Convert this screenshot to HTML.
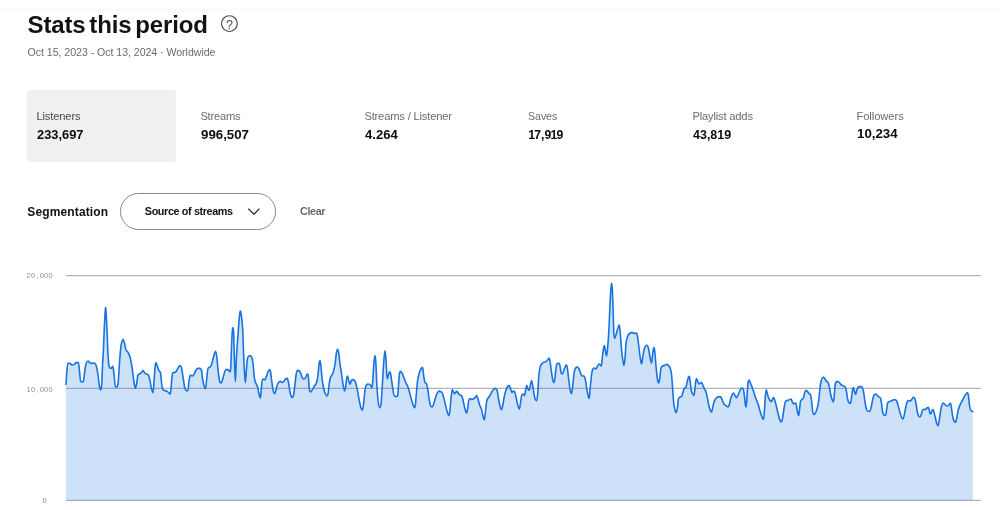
<!DOCTYPE html>
<html lang="en">
<head>
<meta charset="utf-8">
<title>Stats this period</title>
<style>
*{box-sizing:border-box;margin:0;padding:0}
html,body{width:1000px;height:510px;background:#fff;overflow:hidden}
body{font-family:"Liberation Sans",sans-serif;color:#121212;position:relative}
.abs{position:absolute;white-space:nowrap}
#topline{position:absolute;left:0;top:9px;width:1000px;height:1px;background:#f7f7f7}
#title{left:27.5px;top:10.8px;font-size:24px;font-weight:700;line-height:28px;color:#121212}
#help{left:219px;top:13px;width:21px;height:21px}
#sub{left:27.6px;top:45px;font-size:10.6px;line-height:14px;color:#6a6a6a}
.card{position:absolute;top:90px;height:72px;width:149px;border-radius:3px}
.card.sel{background:#f0f0f0}
.card .l{position:absolute;left:9.4px;top:19.3px;font-size:11.2px;line-height:14px;color:#6c6c6c;white-space:nowrap}
.card.sel .l{color:#4a4a4a}
.card .v{position:absolute;left:10px;top:37.4px;font-size:12.2px;line-height:16px;font-weight:700;color:#0c0c0c;white-space:nowrap}
.card .v{transform-origin:0 0}
#v5{top:36.1px;font-size:12.4px}
.n1{letter-spacing:-0.7px;margin-left:-0.8px}
#seg{left:27.3px;top:203.7px;font-size:12px;font-weight:700;line-height:16px}
#dd{position:absolute;left:120px;top:192.6px;width:156px;height:37.4px;border:1px solid #8a8a8a;border-radius:19px;background:#fff}
#ddt{position:absolute;left:23.8px;top:10.6px;font-size:10.8px;font-weight:700;line-height:14px;white-space:nowrap}
#dd svg{position:absolute;left:124.5px;top:12.1px}
#clear{left:300px;top:203.6px;font-size:10.8px;font-weight:700;line-height:14px;color:#6a6a6a}
#chart{position:absolute;left:0;top:250px}
#chart text{font-family:"Liberation Sans",sans-serif;font-size:7.4px;fill:#8e8e8e;text-anchor:middle}
</style>
</head>
<body>
<div id="topline"></div>
<div class="abs" id="title" style="letter-spacing:-0.121px;word-spacing:-2.8px">Stats this period</div>
<svg class="abs" id="help" viewBox="0 0 21 21"><circle cx="10.4" cy="10.6" r="7.9" fill="none" stroke="#4a4a4a" stroke-width="1.15"/><text x="10.4" y="15.5" text-anchor="middle" font-family="Liberation Sans, sans-serif" font-size="12.6" fill="#4a4a4a">?</text></svg>
<div class="abs" id="sub" style="letter-spacing:-0.042px">Oct 15, 2023 - Oct 13, 2024 · Worldwide</div>

<div class="card sel" style="left:27px"><div class="l" id="l0" style="letter-spacing:-0.150px">Listeners</div><div class="v" id="v0" style="letter-spacing:0.000px;transform:scaleX(1.0545)">233,697</div></div>
<div class="card" style="left:191px"><div class="l" id="l1" style="letter-spacing:-0.250px">Streams</div><div class="v" id="v1" style="letter-spacing:0.000px;transform:scaleX(1.0886)">996,507</div></div>
<div class="card" style="left:355px"><div class="l" id="l2" style="letter-spacing:-0.188px">Streams / Listener</div><div class="v" id="v2" style="letter-spacing:0.000px;transform:scaleX(1.0710)">4.264</div></div>
<div class="card" style="left:519px"><div class="l" id="l3" style="letter-spacing:-0.100px;transform:scaleX(0.955);transform-origin:0 0">Saves</div><div class="v" id="v3" style="letter-spacing:0.000px;transform:scaleX(1.0000)"><span class="n1">1</span>7,9<span class="n1">1</span>9</div></div>
<div class="card" style="left:683px"><div class="l" id="l4" style="letter-spacing:-0.183px">Playlist adds</div><div class="v" id="v4" style="letter-spacing:0.000px;transform:scaleX(1.0243)">43,819</div></div>
<div class="card" style="left:847px"><div class="l" id="l5" style="letter-spacing:-0.062px">Followers</div><div class="v" id="v5" style="letter-spacing:0.000px;transform:scaleX(1.0711)">10,234</div></div>

<div class="abs" id="seg" style="letter-spacing:0.136px">Segmentation</div>
<div id="dd"><span id="ddt" style="letter-spacing:-0.369px">Source of streams</span><svg width="16" height="12" viewBox="0 0 16 12"><path d="M2.3 2.6 L7.9 8.1 L13.5 2.6" fill="none" stroke="#222" stroke-width="1.25"/></svg></div>
<div class="abs" id="clear" style="letter-spacing:-0.375px">Clear</div>

<svg id="chart" width="1000" height="260" viewBox="0 250 1000 260">
<line x1="66" x2="981" y1="275.6" y2="275.6" stroke="#b4b4b4" stroke-width="1.3"/>
<line x1="66" x2="981" y1="388.4" y2="388.4" stroke="#b4b4b4" stroke-width="1.3"/>
<line x1="66" x2="981" y1="500.4" y2="500.4" stroke="#b4b4b4" stroke-width="1.3"/>
<path id="area" d="M66.00 384.40C66.27 379.84 66.53 375.28 66.80 372.00C67.20 367.08 67.60 363.00 68.00 363.00C68.67 363.00 69.33 363.31 70.00 363.60C70.80 363.94 71.60 365.00 72.40 365.00C73.07 365.00 73.73 364.80 74.40 364.40C74.93 364.08 75.47 362.60 76.00 362.60C76.80 362.60 77.60 362.60 78.40 362.60C78.73 362.60 79.07 367.27 79.40 370.00C79.80 373.28 80.20 380.43 80.60 381.00C81.07 381.67 81.53 382.00 82.00 382.00C82.47 382.00 82.93 381.87 83.40 381.60C83.73 381.41 84.07 376.36 84.40 374.00C84.93 370.22 85.47 365.60 86.00 364.00C86.67 362.00 87.33 361.00 88.00 361.00C88.67 361.00 89.33 362.73 90.00 363.00C90.67 363.27 91.33 363.40 92.00 363.40C92.67 363.40 93.33 363.00 94.00 363.00C94.67 363.00 95.33 363.67 96.00 365.00C96.67 366.33 97.33 370.74 98.00 375.00C98.53 378.41 99.07 384.48 99.60 387.00C99.93 388.58 100.27 390.00 100.60 390.00C100.93 390.00 101.27 388.67 101.60 386.00C101.93 383.33 102.27 370.50 102.60 364.00C102.87 358.80 103.13 355.67 103.40 350.00C103.67 344.33 103.93 335.90 104.20 330.00C104.40 325.57 104.60 321.56 104.80 318.00C104.97 315.03 105.13 311.97 105.30 310.00C105.40 308.82 105.50 307.20 105.60 307.20C105.70 307.20 105.80 308.82 105.90 310.00C106.07 311.97 106.23 315.03 106.40 318.00C106.60 321.56 106.80 325.57 107.00 330.00C107.27 335.90 107.53 344.58 107.80 350.00C108.20 358.13 108.60 364.63 109.00 366.00C109.47 367.60 109.93 368.40 110.40 368.40C110.80 368.40 111.20 368.27 111.60 368.00C112.00 367.73 112.40 366.40 112.80 366.40C113.20 366.40 113.60 370.92 114.00 374.00C114.47 377.59 114.93 387.00 115.40 387.00C115.87 387.00 116.33 387.00 116.80 387.00C117.20 387.00 117.60 386.00 118.00 384.00C118.47 381.67 118.93 370.01 119.40 364.00C119.93 357.14 120.47 349.20 121.00 346.00C121.73 341.60 122.47 339.40 123.20 339.40C123.60 339.40 124.00 341.56 124.40 343.00C124.93 344.91 125.47 348.72 126.00 350.00C126.67 351.60 127.33 351.23 128.00 352.40C128.67 353.57 129.33 354.57 130.00 357.00C130.67 359.43 131.33 362.83 132.00 367.00C132.67 371.17 133.33 378.15 134.00 382.00C134.47 384.70 134.93 388.40 135.40 388.40C135.80 388.40 136.20 385.98 136.60 384.00C137.07 381.69 137.53 375.65 138.00 375.00C138.67 374.07 139.33 374.09 140.00 373.60C140.53 373.21 141.07 372.95 141.60 372.40C142.07 371.92 142.53 370.60 143.00 370.60C143.47 370.60 143.93 371.86 144.40 372.40C144.93 373.01 145.47 373.79 146.00 374.00C146.67 374.27 147.33 374.13 148.00 374.40C148.53 374.61 149.07 376.96 149.60 379.00C150.27 381.55 150.93 386.62 151.60 389.00C152.07 390.67 152.53 392.60 153.00 392.60C153.33 392.60 153.67 385.95 154.00 382.00C154.40 377.26 154.80 369.15 155.20 366.00C155.47 363.90 155.73 362.60 156.00 362.60C156.40 362.60 156.80 364.91 157.20 366.00C157.80 367.63 158.40 369.50 159.00 370.60C159.47 371.46 159.93 371.20 160.40 372.40C160.80 373.43 161.20 380.13 161.60 383.00C162.00 385.87 162.40 389.10 162.80 389.60C163.33 390.27 163.87 390.35 164.40 390.60C165.27 391.00 166.13 390.80 167.00 391.20C167.67 391.51 168.33 392.47 169.00 393.00C169.47 393.37 169.93 394.00 170.40 394.00C170.73 394.00 171.07 387.21 171.40 384.00C171.80 380.15 172.20 373.27 172.60 373.00C173.20 372.60 173.80 372.65 174.40 372.40C174.93 372.18 175.47 372.13 176.00 371.60C176.67 370.93 177.33 369.00 178.00 368.00C178.67 367.00 179.33 365.60 180.00 365.60C180.47 365.60 180.93 366.27 181.40 367.60C181.93 369.12 182.47 373.88 183.00 377.00C183.67 380.89 184.33 387.00 185.00 388.60C185.67 390.20 186.33 391.00 187.00 391.00C187.33 391.00 187.67 390.67 188.00 390.00C188.33 389.33 188.67 383.35 189.00 381.00C189.47 377.72 189.93 375.00 190.40 375.00C190.93 375.00 191.47 376.00 192.00 376.00C192.53 376.00 193.07 375.66 193.60 375.00C194.27 374.18 194.93 372.10 195.60 371.00C196.27 369.90 196.93 368.40 197.60 368.40C198.27 368.40 198.93 368.40 199.60 368.40C200.20 368.40 200.80 368.93 201.40 370.00C201.80 370.71 202.20 376.49 202.60 379.00C203.20 382.77 203.80 385.45 204.40 387.00C204.80 388.03 205.20 388.60 205.60 388.60C205.93 388.60 206.27 382.82 206.60 380.00C207.07 376.05 207.53 369.05 208.00 368.40C208.67 367.47 209.33 367.75 210.00 367.00C210.47 366.47 210.93 366.17 211.40 365.00C211.93 363.66 212.47 361.03 213.00 359.00C213.47 357.22 213.93 354.89 214.40 353.60C214.80 352.49 215.20 351.40 215.60 351.40C216.00 351.40 216.40 354.22 216.80 357.00C217.33 360.71 217.87 368.77 218.40 373.00C218.93 377.23 219.47 381.87 220.00 382.40C220.40 382.80 220.80 383.00 221.20 383.00C221.80 383.00 222.40 379.87 223.00 378.00C223.67 375.92 224.33 372.33 225.00 371.00C225.53 369.93 226.07 369.40 226.60 369.40C227.20 369.40 227.80 369.60 228.40 370.00C228.93 370.36 229.47 372.00 230.00 372.00C230.20 372.00 230.40 371.33 230.60 370.00C230.87 368.22 231.13 356.07 231.40 350.00C231.73 342.41 232.07 332.67 232.40 330.00C232.60 328.40 232.80 327.60 233.00 327.60C233.20 327.60 233.40 329.07 233.60 332.00C233.87 335.91 234.13 352.25 234.40 360.00C234.73 369.68 235.07 381.60 235.40 381.60C235.70 381.60 236.00 365.93 236.30 360.00C236.60 354.07 236.90 350.44 237.20 346.00C237.59 340.28 237.97 335.27 238.36 330.00C238.61 326.64 238.85 322.85 239.10 320.00C239.33 317.30 239.57 314.75 239.80 313.20C240.00 311.87 240.20 310.80 240.40 310.80C240.63 310.80 240.87 312.61 241.10 314.00C241.40 315.79 241.70 317.81 242.00 321.00C242.23 323.48 242.47 325.59 242.70 330.00C243.00 335.67 243.30 346.95 243.60 354.00C243.93 361.84 244.27 369.05 244.60 374.00C244.87 377.96 245.13 382.60 245.40 382.60C245.73 382.60 246.07 373.81 246.40 370.00C246.80 365.43 247.20 359.14 247.60 358.00C248.07 356.67 248.53 356.37 249.00 356.00C249.33 355.73 249.67 355.60 250.00 355.60C250.53 355.60 251.07 356.07 251.60 357.00C252.07 357.82 252.53 359.50 253.00 363.00C253.47 366.50 253.93 374.73 254.40 378.00C254.93 381.73 255.47 382.10 256.00 383.60C256.53 385.10 257.07 385.05 257.60 387.00C258.07 388.71 258.53 392.17 259.00 394.00C259.47 395.83 259.93 398.00 260.40 398.00C260.67 398.00 260.93 392.52 261.20 390.00C261.60 386.21 262.00 380.00 262.40 379.60C262.80 379.20 263.20 379.00 263.60 379.00C264.07 379.00 264.53 380.00 265.00 380.00C265.47 380.00 265.93 377.64 266.40 376.40C266.93 374.98 267.47 373.13 268.00 372.00C268.53 370.87 269.07 369.60 269.60 369.60C269.93 369.60 270.27 370.40 270.60 372.00C270.93 373.60 271.27 377.49 271.60 380.00C272.07 383.51 272.53 387.35 273.00 389.60C273.53 392.17 274.07 393.60 274.60 393.60C275.07 393.60 275.53 391.53 276.00 390.00C276.47 388.47 276.93 385.72 277.40 384.40C277.93 382.89 278.47 382.46 279.00 382.00C279.47 381.60 279.93 381.40 280.40 381.40C280.93 381.40 281.47 382.40 282.00 382.40C282.53 382.40 283.07 382.06 283.60 381.60C284.27 381.03 284.93 379.50 285.60 379.00C286.13 378.60 286.67 378.40 287.20 378.40C287.60 378.40 288.00 380.07 288.40 382.00C288.80 383.93 289.20 387.83 289.60 390.00C290.07 392.54 290.53 394.40 291.00 395.60C291.47 396.80 291.93 397.40 292.40 397.40C292.80 397.40 293.20 396.60 293.60 395.00C294.07 393.13 294.53 387.67 295.00 384.00C295.47 380.33 295.93 375.02 296.40 373.00C296.80 371.27 297.20 370.40 297.60 370.40C298.20 370.40 298.80 370.60 299.40 371.00C299.93 371.36 300.47 372.72 301.00 374.00C301.47 375.12 301.93 377.42 302.40 378.00C302.93 378.67 303.47 379.00 304.00 379.00C304.53 379.00 305.07 378.47 305.60 377.60C306.07 376.84 306.53 374.77 307.00 374.40C307.33 374.13 307.67 374.00 308.00 374.00C308.20 374.00 308.40 377.92 308.60 380.00C308.93 383.46 309.27 390.33 309.60 391.00C309.93 391.67 310.27 392.00 310.60 392.00C311.20 392.00 311.80 390.53 312.40 389.60C313.07 388.56 313.73 387.10 314.40 386.00C315.07 384.90 315.73 385.00 316.40 383.00C316.93 381.40 317.47 379.19 318.00 375.00C318.40 371.86 318.80 365.32 319.20 363.00C319.47 361.45 319.73 360.60 320.00 360.60C320.27 360.60 320.53 362.96 320.80 365.00C321.20 368.05 321.60 374.45 322.00 378.00C322.53 382.73 323.07 385.40 323.60 388.00C324.20 390.93 324.80 392.66 325.40 394.00C325.93 395.19 326.47 396.00 327.00 396.00C327.33 396.00 327.67 395.33 328.00 394.00C328.40 392.40 328.80 386.73 329.20 384.00C329.60 381.27 330.00 378.90 330.40 377.60C330.93 375.87 331.47 376.10 332.00 375.00C332.53 373.90 333.07 373.00 333.60 371.00C334.13 369.00 334.67 366.68 335.20 363.00C335.60 360.24 336.00 355.30 336.40 353.00C336.80 350.70 337.20 349.20 337.60 349.20C337.93 349.20 338.27 350.27 338.60 352.00C339.07 354.43 339.53 360.51 340.00 364.00C340.53 367.99 341.07 370.41 341.60 374.00C342.07 377.14 342.53 381.27 343.00 384.00C343.53 387.12 344.07 391.00 344.60 391.00C344.93 391.00 345.27 389.00 345.60 387.00C345.93 385.00 346.27 380.83 346.60 379.00C346.93 377.17 347.27 376.00 347.60 376.00C347.93 376.00 348.27 378.79 348.60 380.00C349.07 381.70 349.53 384.40 350.00 384.40C350.33 384.40 350.67 382.34 351.00 381.60C351.47 380.56 351.93 379.60 352.40 379.60C352.93 379.60 353.47 379.73 354.00 380.00C354.53 380.27 355.07 380.89 355.60 382.40C356.07 383.72 356.53 385.85 357.00 388.00C357.67 391.08 358.33 395.67 359.00 399.00C359.67 402.33 360.33 406.09 361.00 408.00C361.47 409.34 361.93 410.40 362.40 410.40C362.80 410.40 363.20 406.99 363.60 404.00C364.07 400.51 364.53 393.17 365.00 390.00C365.47 386.83 365.93 385.58 366.40 385.00C366.93 384.33 367.47 384.00 368.00 384.00C368.53 384.00 369.07 384.13 369.60 384.40C370.07 384.63 370.53 385.23 371.00 386.00C371.33 386.55 371.67 388.00 372.00 388.00C372.27 388.00 372.53 383.20 372.80 380.00C373.20 375.20 373.60 366.12 374.00 362.00C374.33 358.56 374.67 355.60 375.00 355.60C375.27 355.60 375.53 358.21 375.80 362.00C376.13 366.74 376.47 377.98 376.80 384.00C377.20 391.22 377.60 396.20 378.00 400.00C378.53 405.07 379.07 407.60 379.60 407.60C380.07 407.60 380.53 406.40 381.00 404.00C381.47 401.60 381.93 391.26 382.40 384.00C382.80 377.77 383.20 369.36 383.60 364.00C384.07 357.75 384.53 350.60 385.00 350.60C385.33 350.60 385.67 355.89 386.00 360.00C386.40 364.93 386.80 379.00 387.20 379.00C387.60 379.00 388.00 376.17 388.40 375.00C388.87 373.64 389.33 371.60 389.80 371.60C390.13 371.60 390.47 373.42 390.80 375.00C391.33 377.53 391.87 382.67 392.40 386.00C392.93 389.33 393.47 393.93 394.00 395.00C394.53 396.07 395.07 396.60 395.60 396.60C396.27 396.60 396.93 396.40 397.60 396.00C397.93 395.80 398.27 387.83 398.60 384.00C398.93 380.17 399.27 374.07 399.60 373.00C399.93 371.93 400.27 371.40 400.60 371.40C401.07 371.40 401.53 372.21 402.00 373.00C402.67 374.13 403.33 376.33 404.00 378.00C404.67 379.67 405.33 381.50 406.00 383.00C406.67 384.50 407.33 385.17 408.00 387.00C408.67 388.83 409.33 391.57 410.00 394.00C410.67 396.43 411.33 399.43 412.00 401.60C412.67 403.77 413.33 406.20 414.00 407.00C414.33 407.40 414.67 407.60 415.00 407.60C415.33 407.60 415.67 401.45 416.00 398.00C416.47 393.16 416.93 385.93 417.40 382.00C417.93 377.50 418.47 376.07 419.00 374.00C419.67 371.41 420.33 370.11 421.00 369.00C421.53 368.11 422.07 367.40 422.60 367.40C422.93 367.40 423.27 372.79 423.60 375.00C424.07 378.10 424.53 381.47 425.00 382.40C425.53 383.47 426.07 382.93 426.60 384.00C427.07 384.93 427.53 388.26 428.00 391.00C428.53 394.13 429.07 399.39 429.60 402.00C430.07 404.28 430.53 406.00 431.00 406.40C431.47 406.80 431.93 407.00 432.40 407.00C432.93 407.00 433.47 404.57 434.00 403.00C434.67 401.04 435.33 397.83 436.00 396.00C436.67 394.17 437.33 392.82 438.00 392.00C438.53 391.34 439.07 391.00 439.60 391.00C439.73 391.00 439.87 391.53 440.00 391.60C440.53 391.87 441.07 391.73 441.60 392.00C442.07 392.23 442.53 393.64 443.00 395.00C443.67 396.94 444.33 400.33 445.00 403.00C445.67 405.67 446.33 408.90 447.00 411.00C447.67 413.10 448.33 415.60 449.00 415.60C449.33 415.60 449.67 412.93 450.00 410.00C450.33 407.07 450.67 401.17 451.00 398.00C451.47 393.57 451.93 389.60 452.40 389.60C452.80 389.60 453.20 391.71 453.60 392.40C453.93 392.97 454.27 393.60 454.60 393.60C455.07 393.60 455.53 392.37 456.00 392.00C456.40 391.68 456.80 391.40 457.20 391.40C457.60 391.40 458.00 393.03 458.40 393.60C458.93 394.36 459.47 394.67 460.00 395.00C460.53 395.33 461.07 395.20 461.60 395.60C462.07 395.95 462.53 398.27 463.00 400.00C463.67 402.47 464.33 406.74 465.00 409.00C465.53 410.81 466.07 413.00 466.60 413.00C466.93 413.00 467.27 411.00 467.60 409.00C467.93 407.00 468.27 402.14 468.60 401.00C469.07 399.40 469.53 398.60 470.00 398.60C470.53 398.60 471.07 399.40 471.60 399.40C472.13 399.40 472.67 399.27 473.20 399.00C473.80 398.70 474.40 398.22 475.00 397.60C475.53 397.05 476.07 395.60 476.60 395.60C477.07 395.60 477.53 397.58 478.00 399.00C478.53 400.62 479.07 403.38 479.60 405.00C480.20 406.82 480.80 406.98 481.40 409.00C481.93 410.79 482.47 414.10 483.00 416.00C483.47 417.66 483.93 420.00 484.40 420.00C484.80 420.00 485.20 413.11 485.60 410.00C486.07 406.37 486.53 401.40 487.00 400.00C487.67 398.00 488.33 398.07 489.00 397.00C489.67 395.93 490.33 394.77 491.00 393.60C491.67 392.43 492.33 390.87 493.00 390.00C493.67 389.13 494.33 388.40 495.00 388.40C495.67 388.40 496.33 388.93 497.00 390.00C497.47 390.75 497.93 395.49 498.40 398.00C498.93 400.87 499.47 404.07 500.00 406.00C500.53 407.93 501.07 409.60 501.60 409.60C502.07 409.60 502.53 406.22 503.00 404.00C503.53 401.46 504.07 397.42 504.60 395.00C505.20 392.27 505.80 390.54 506.40 389.00C506.93 387.63 507.47 386.30 508.00 386.00C508.47 385.73 508.93 385.60 509.40 385.60C509.80 385.60 510.20 387.94 510.60 389.00C511.07 390.24 511.53 392.40 512.00 392.40C512.47 392.40 512.93 391.00 513.40 391.00C513.80 391.00 514.20 391.20 514.60 391.60C515.07 392.07 515.53 395.08 516.00 397.00C516.67 399.75 517.33 403.87 518.00 406.00C518.47 407.49 518.93 409.20 519.40 409.20C519.80 409.20 520.20 404.29 520.60 402.00C521.07 399.32 521.53 394.40 522.00 394.40C522.47 394.40 522.93 394.40 523.40 394.40C523.80 394.40 524.20 395.60 524.60 395.60C524.93 395.60 525.27 391.57 525.60 390.00C526.00 388.11 526.40 385.60 526.80 385.60C527.20 385.60 527.60 388.20 528.00 389.00C528.40 389.80 528.80 390.40 529.20 390.40C529.60 390.40 530.00 386.63 530.40 385.00C530.80 383.37 531.20 380.60 531.60 380.60C531.93 380.60 532.27 383.25 532.60 385.00C533.07 387.45 533.53 391.57 534.00 394.00C534.47 396.43 534.93 398.93 535.40 399.60C535.87 400.27 536.33 400.60 536.80 400.60C537.13 400.60 537.47 396.10 537.80 392.00C538.13 387.90 538.47 379.97 538.80 376.00C539.20 371.24 539.60 369.40 540.00 367.60C540.53 365.20 541.07 364.85 541.60 364.00C542.27 362.93 542.93 362.79 543.60 362.40C544.40 361.93 545.20 362.13 546.00 361.60C546.53 361.24 547.07 360.66 547.60 360.00C548.07 359.43 548.53 358.00 549.00 358.00C549.33 358.00 549.67 359.32 550.00 361.00C550.40 363.02 550.80 367.20 551.20 370.00C551.67 373.27 552.13 376.90 552.60 379.00C553.07 381.10 553.53 382.60 554.00 382.60C554.33 382.60 554.67 380.43 555.00 378.00C555.33 375.57 555.67 370.37 556.00 368.00C556.40 365.15 556.80 363.76 557.20 363.60C557.87 363.33 558.53 363.20 559.20 363.20C559.47 363.20 559.73 364.82 560.00 366.00C560.40 367.77 560.80 372.33 561.20 373.00C561.60 373.67 562.00 374.00 562.40 374.00C562.93 374.00 563.47 371.33 564.00 370.00C564.53 368.67 565.07 366.84 565.60 366.00C565.93 365.47 566.27 365.00 566.60 365.00C566.93 365.00 567.27 367.84 567.60 370.00C568.07 373.03 568.53 378.50 569.00 382.00C569.47 385.50 569.93 389.13 570.40 391.00C570.80 392.60 571.20 393.40 571.60 393.40C571.93 393.40 572.27 389.53 572.60 387.00C573.07 383.45 573.53 377.13 574.00 374.00C574.53 370.43 575.07 368.67 575.60 368.00C576.13 367.33 576.67 367.00 577.20 367.00C577.80 367.00 578.40 367.89 579.00 369.00C579.53 369.98 580.07 371.77 580.60 373.00C581.07 374.08 581.53 376.00 582.00 376.00C582.67 376.00 583.33 376.00 584.00 376.00C584.47 376.00 584.93 377.93 585.40 380.00C585.93 382.37 586.47 387.02 587.00 390.00C587.47 392.61 587.93 395.63 588.40 397.00C588.67 397.78 588.93 398.40 589.20 398.40C589.47 398.40 589.73 392.69 590.00 390.00C590.67 383.29 591.33 375.33 592.00 372.00C592.33 370.33 592.67 369.48 593.00 369.00C593.47 368.33 593.93 368.00 594.40 368.00C594.93 368.00 595.47 369.00 596.00 369.00C596.47 369.00 596.93 367.19 597.40 366.40C597.93 365.50 598.47 364.00 599.00 364.00C599.47 364.00 599.93 364.59 600.40 365.00C600.73 365.29 601.07 366.00 601.40 366.00C601.73 366.00 602.07 359.77 602.40 357.00C602.80 353.67 603.20 349.92 603.60 348.00C603.87 346.72 604.13 345.60 604.40 345.60C604.73 345.60 605.07 349.39 605.40 351.00C605.80 352.94 606.20 356.00 606.60 356.00C606.93 356.00 607.27 351.56 607.60 348.00C608.13 342.30 608.67 334.95 609.20 324.00C609.53 317.15 609.87 306.38 610.20 300.00C610.43 295.54 610.67 291.67 610.90 289.00C611.03 287.47 611.17 286.47 611.30 285.40C611.40 284.60 611.50 283.20 611.60 283.20C611.70 283.20 611.80 284.60 611.90 285.40C612.03 286.47 612.17 287.03 612.30 289.00C612.57 292.93 612.83 302.50 613.10 310.00C613.37 317.50 613.63 330.65 613.90 334.00C614.13 336.93 614.37 338.40 614.60 338.40C615.07 338.40 615.53 336.42 616.00 335.00C616.53 333.38 617.07 330.67 617.60 329.00C618.13 327.33 618.67 325.00 619.20 325.00C619.47 325.00 619.73 327.69 620.00 330.00C620.47 334.04 620.93 343.00 621.40 348.00C621.87 353.00 622.33 356.98 622.80 360.00C623.20 362.59 623.60 365.60 624.00 365.60C624.33 365.60 624.67 361.60 625.00 358.00C625.33 354.40 625.67 347.33 626.00 344.00C626.47 339.33 626.93 338.59 627.40 337.00C628.07 334.73 628.73 334.21 629.40 333.60C630.13 332.93 630.87 332.60 631.60 332.60C632.27 332.60 632.93 332.83 633.60 333.00C634.07 333.12 634.53 333.40 635.00 333.40C635.53 333.40 636.07 333.00 636.60 333.00C636.93 333.00 637.27 335.13 637.60 337.00C638.07 339.62 638.53 344.33 639.00 348.00C639.47 351.67 639.93 356.26 640.40 359.00C640.80 361.35 641.20 364.00 641.60 364.00C641.93 364.00 642.27 359.96 642.60 358.00C643.07 355.26 643.53 351.97 644.00 350.00C644.53 347.75 645.07 346.46 645.60 346.00C646.07 345.60 646.53 345.40 647.00 345.40C647.47 345.40 647.93 346.27 648.40 348.00C648.80 349.49 649.20 352.83 649.60 355.00C650.00 357.17 650.40 359.60 650.80 361.00C651.07 361.93 651.33 363.00 651.60 363.00C651.87 363.00 652.13 358.13 652.40 356.00C652.73 353.34 653.07 350.17 653.40 349.00C653.67 348.07 653.93 347.60 654.20 347.60C654.47 347.60 654.73 351.39 655.00 354.00C655.33 357.26 655.67 362.38 656.00 366.00C656.47 371.07 656.93 376.33 657.40 379.00C657.87 381.67 658.33 383.00 658.80 383.00C659.13 383.00 659.47 380.17 659.80 378.00C660.20 375.39 660.60 369.00 661.00 368.00C661.53 366.67 662.07 366.32 662.60 366.00C663.27 365.60 663.93 365.67 664.60 365.40C665.27 365.13 665.93 364.40 666.60 364.40C667.27 364.40 667.93 364.80 668.60 365.60C669.20 366.32 669.80 366.75 670.40 369.00C670.80 370.50 671.20 371.25 671.60 375.00C671.93 378.12 672.27 383.50 672.60 388.00C672.93 392.50 673.27 398.48 673.60 402.00C674.07 406.92 674.53 408.27 675.00 410.00C675.47 411.73 675.93 412.60 676.40 412.60C676.73 412.60 677.07 410.27 677.40 408.00C677.73 405.73 678.07 399.83 678.40 399.00C678.93 397.67 679.47 397.27 680.00 397.00C680.53 396.73 681.07 396.87 681.60 396.60C682.07 396.37 682.53 393.37 683.00 392.00C683.47 390.63 683.93 389.22 684.40 388.40C684.93 387.47 685.47 387.93 686.00 387.00C686.47 386.18 686.93 382.76 687.40 381.00C687.80 379.49 688.20 377.60 688.60 377.00C688.87 376.60 689.13 376.40 689.40 376.40C689.67 376.40 689.93 380.01 690.20 382.00C690.53 384.48 690.87 388.10 691.20 390.00C691.67 392.67 692.13 393.10 692.60 394.00C693.07 394.90 693.53 395.40 694.00 395.40C694.27 395.40 694.53 392.07 694.80 390.00C695.13 387.42 695.47 382.89 695.80 381.00C696.07 379.49 696.33 378.60 696.60 378.60C696.93 378.60 697.27 380.24 697.60 381.00C698.07 382.07 698.53 384.00 699.00 384.00C699.47 384.00 699.93 383.24 700.40 383.00C700.80 382.80 701.20 382.60 701.60 382.60C702.07 382.60 702.53 384.53 703.00 385.60C703.47 386.67 703.93 387.99 704.40 389.00C704.93 390.16 705.47 390.33 706.00 392.00C706.53 393.67 707.07 396.50 707.60 399.00C708.13 401.50 708.67 404.94 709.20 407.00C709.67 408.80 710.13 410.17 710.60 411.00C710.93 411.59 711.27 412.00 711.60 412.00C711.93 412.00 712.27 409.37 712.60 408.00C713.07 406.08 713.53 403.48 714.00 402.00C714.53 400.31 715.07 399.79 715.60 399.00C716.27 398.01 716.93 397.27 717.60 397.00C718.27 396.73 718.93 396.60 719.60 396.60C720.13 396.60 720.67 396.93 721.20 397.60C721.67 398.18 722.13 399.93 722.60 401.00C723.07 402.07 723.53 403.26 724.00 404.00C724.67 405.06 725.33 405.10 726.00 405.60C726.67 406.10 727.33 407.00 728.00 407.00C728.40 407.00 728.80 406.15 729.20 405.00C729.67 403.66 730.13 400.67 730.60 399.00C731.07 397.33 731.53 395.98 732.00 395.00C732.53 393.88 733.07 393.00 733.60 393.00C734.07 393.00 734.53 394.83 735.00 395.60C735.47 396.37 735.93 397.60 736.40 397.60C736.93 397.60 737.47 396.01 738.00 395.00C738.47 394.11 738.93 393.09 739.40 392.00C739.80 391.07 740.20 389.57 740.60 389.00C741.07 388.33 741.53 388.00 742.00 388.00C742.47 388.00 742.93 388.53 743.40 389.60C743.73 390.36 744.07 393.43 744.40 396.00C744.73 398.57 745.07 403.33 745.40 405.00C745.67 406.33 745.93 407.00 746.20 407.00C746.47 407.00 746.73 399.58 747.00 396.00C747.33 391.53 747.67 385.00 748.00 383.00C748.33 381.00 748.67 380.00 749.00 380.00C749.47 380.00 749.93 381.93 750.40 383.00C751.07 384.53 751.73 386.17 752.40 388.00C753.07 389.83 753.73 392.00 754.40 394.00C755.07 396.00 755.73 398.17 756.40 400.00C757.07 401.83 757.73 402.87 758.40 405.00C758.93 406.70 759.47 409.18 760.00 411.00C760.67 413.28 761.33 415.50 762.00 417.00C762.47 418.05 762.93 419.40 763.40 419.40C763.67 419.40 763.93 416.90 764.20 414.00C764.53 410.38 764.87 402.07 765.20 398.00C765.53 393.93 765.87 389.60 766.20 389.60C766.53 389.60 766.87 391.84 767.20 393.00C767.67 394.62 768.13 396.73 768.60 398.00C769.07 399.27 769.53 400.00 770.00 400.60C770.47 401.20 770.93 401.60 771.40 401.60C771.80 401.60 772.20 399.70 772.60 399.00C772.93 398.42 773.27 397.60 773.60 397.60C774.07 397.60 774.53 399.58 775.00 401.00C775.53 402.62 776.07 404.83 776.60 407.00C777.20 409.45 777.80 412.67 778.40 415.00C778.93 417.07 779.47 419.22 780.00 420.40C780.40 421.28 780.80 422.00 781.20 422.00C781.60 422.00 782.00 420.83 782.40 419.00C782.80 417.17 783.20 413.49 783.60 411.00C784.07 408.09 784.53 404.60 785.00 403.00C785.47 401.40 785.93 400.72 786.40 400.60C786.93 400.47 787.47 400.53 788.00 400.40C788.53 400.27 789.07 399.85 789.60 399.60C790.07 399.38 790.53 399.00 791.00 399.00C791.47 399.00 791.93 401.12 792.40 402.00C792.80 402.75 793.20 404.00 793.60 404.00C794.07 404.00 794.53 403.00 795.00 403.00C795.33 403.00 795.67 403.20 796.00 403.60C796.33 404.00 796.67 407.27 797.00 409.00C797.33 410.73 797.67 412.89 798.00 414.00C798.27 414.89 798.53 415.60 798.80 415.60C799.07 415.60 799.33 411.17 799.60 409.00C799.93 406.29 800.27 401.76 800.60 401.00C801.07 399.93 801.53 399.90 802.00 399.40C802.47 398.90 802.93 398.93 803.40 398.00C803.80 397.20 804.20 394.24 804.60 393.00C805.07 391.55 805.53 390.40 806.00 390.40C806.53 390.40 807.07 391.07 807.60 391.60C808.13 392.13 808.67 393.00 809.20 393.60C809.67 394.12 810.13 394.07 810.60 395.00C810.93 395.67 811.27 398.33 811.60 401.00C811.93 403.67 812.27 408.77 812.60 411.00C812.93 413.23 813.27 414.40 813.60 414.40C814.07 414.40 814.53 414.13 815.00 413.60C815.53 412.99 816.07 411.58 816.60 410.00C817.07 408.62 817.53 407.60 818.00 405.00C818.33 403.14 818.67 400.83 819.00 398.00C819.33 395.17 819.67 390.74 820.00 388.00C820.47 384.17 820.93 381.40 821.40 380.00C822.07 378.00 822.73 377.00 823.40 377.00C823.93 377.00 824.47 378.27 825.00 379.00C825.53 379.73 826.07 380.82 826.60 381.40C827.07 381.90 827.53 381.73 828.00 382.40C828.40 382.97 828.80 384.63 829.20 386.40C829.60 388.17 830.00 391.04 830.40 393.00C830.93 395.62 831.47 398.09 832.00 399.60C832.47 400.93 832.93 402.00 833.40 402.00C833.67 402.00 833.93 398.41 834.20 396.00C834.53 392.98 834.87 386.89 835.20 385.00C835.60 382.73 836.00 381.60 836.40 381.60C836.93 381.60 837.47 381.60 838.00 381.60C838.53 381.60 839.07 382.50 839.60 383.00C840.27 383.62 840.93 384.50 841.60 385.00C842.27 385.50 842.93 385.62 843.60 386.00C844.13 386.30 844.67 386.33 845.20 387.00C845.60 387.50 846.00 389.00 846.40 391.00C846.80 393.00 847.20 397.09 847.60 399.00C848.07 401.23 848.53 402.13 849.00 402.60C849.53 403.13 850.07 403.40 850.60 403.40C850.93 403.40 851.27 399.30 851.60 397.00C851.93 394.70 852.27 391.16 852.60 389.60C852.87 388.35 853.13 387.60 853.40 387.60C853.73 387.60 854.07 389.95 854.40 391.00C854.80 392.26 855.20 394.40 855.60 394.40C855.93 394.40 856.27 392.02 856.60 391.00C857.07 389.57 857.53 387.87 858.00 387.40C858.53 386.87 859.07 386.60 859.60 386.60C860.13 386.60 860.67 386.60 861.20 386.60C861.67 386.60 862.13 387.07 862.60 388.00C862.93 388.67 863.27 390.23 863.60 392.00C864.07 394.48 864.53 399.17 865.00 402.00C865.47 404.83 865.93 407.60 866.40 409.00C866.93 410.60 867.47 411.40 868.00 411.40C868.67 411.40 869.33 411.27 870.00 411.00C870.47 410.81 870.93 407.98 871.40 406.00C871.93 403.74 872.47 399.94 873.00 398.00C873.47 396.31 873.93 395.07 874.40 394.60C874.80 394.20 875.20 394.00 875.60 394.00C876.13 394.00 876.67 394.93 877.20 395.40C877.80 395.93 878.40 396.47 879.00 397.00C879.53 397.47 880.07 397.47 880.60 398.40C880.93 398.98 881.27 401.73 881.60 404.00C881.93 406.27 882.27 410.57 882.60 412.00C883.07 414.00 883.53 414.77 884.00 415.00C884.53 415.27 885.07 415.40 885.60 415.40C885.93 415.40 886.27 412.07 886.60 410.00C886.93 407.93 887.27 403.67 887.60 403.00C888.07 402.07 888.53 401.88 889.00 401.60C889.67 401.20 890.33 401.27 891.00 401.00C891.67 400.73 892.33 400.23 893.00 400.00C893.67 399.77 894.33 399.60 895.00 399.60C895.53 399.60 896.07 400.07 896.60 401.00C897.07 401.82 897.53 403.47 898.00 405.00C898.53 406.75 899.07 409.10 899.60 411.00C900.20 413.13 900.80 415.62 901.40 417.00C901.93 418.22 902.47 419.20 903.00 419.20C903.33 419.20 903.67 417.32 904.00 416.00C904.47 414.16 904.93 411.14 905.40 409.00C905.93 406.55 906.47 403.77 907.00 402.40C907.47 401.20 907.93 400.60 908.40 400.60C908.93 400.60 909.47 401.00 910.00 401.00C910.47 401.00 910.93 400.57 911.40 400.00C911.80 399.51 912.20 398.43 912.60 398.00C912.93 397.64 913.27 397.40 913.60 397.40C914.07 397.40 914.53 397.93 915.00 399.00C915.33 399.76 915.67 401.17 916.00 403.00C916.33 404.83 916.67 408.08 917.00 410.00C917.47 412.68 917.93 414.78 918.40 415.60C918.93 416.53 919.47 417.00 920.00 417.00C920.47 417.00 920.93 415.30 921.40 414.00C921.80 412.89 922.20 410.34 922.60 410.00C923.07 409.60 923.53 409.40 924.00 409.40C924.53 409.40 925.07 409.40 925.60 409.40C926.07 409.40 926.53 408.34 927.00 408.00C927.40 407.71 927.80 407.40 928.20 407.40C928.53 407.40 928.87 408.90 929.20 410.00C929.53 411.10 929.87 414.00 930.20 414.00C930.53 414.00 930.87 413.56 931.20 413.00C931.60 412.33 932.00 410.40 932.40 410.00C932.67 409.73 932.93 409.60 933.20 409.60C933.53 409.60 933.87 411.75 934.20 413.00C934.60 414.50 935.00 416.33 935.40 418.00C935.80 419.67 936.20 421.71 936.60 423.00C937.07 424.51 937.53 426.00 938.00 426.00C938.33 426.00 938.67 423.83 939.00 422.00C939.33 420.17 939.67 417.15 940.00 415.00C940.47 411.98 940.93 408.97 941.40 407.00C941.93 404.75 942.47 403.00 943.00 403.00C943.47 403.00 943.93 403.60 944.40 404.00C944.93 404.45 945.47 405.33 946.00 405.60C946.53 405.87 947.07 406.00 947.60 406.00C948.07 406.00 948.53 405.50 949.00 405.00C949.47 404.50 949.93 403.00 950.40 403.00C950.67 403.00 950.93 404.60 951.20 406.00C951.60 408.10 952.00 412.64 952.40 415.00C952.93 418.14 953.47 420.07 954.00 421.00C954.53 421.93 955.07 422.40 955.60 422.40C955.93 422.40 956.27 420.45 956.60 419.00C957.07 416.96 957.53 413.10 958.00 411.00C958.53 408.60 959.07 407.40 959.60 406.00C960.27 404.25 960.93 403.33 961.60 402.00C962.27 400.67 962.93 399.23 963.60 398.00C964.27 396.77 964.93 395.50 965.60 394.60C966.27 393.70 966.93 392.60 967.60 392.60C967.93 392.60 968.27 394.77 968.60 397.00C968.93 399.23 969.27 403.81 969.60 406.00C970.00 408.63 970.40 409.92 970.80 410.40C971.47 411.20 972.13 411.40 972.80 411.60L972.80 500.5L66.00 500.5Z" fill="#1673e0" fill-opacity="0.215"/>
<path id="line" d="M66.00 384.40C66.27 379.84 66.53 375.28 66.80 372.00C67.20 367.08 67.60 363.00 68.00 363.00C68.67 363.00 69.33 363.31 70.00 363.60C70.80 363.94 71.60 365.00 72.40 365.00C73.07 365.00 73.73 364.80 74.40 364.40C74.93 364.08 75.47 362.60 76.00 362.60C76.80 362.60 77.60 362.60 78.40 362.60C78.73 362.60 79.07 367.27 79.40 370.00C79.80 373.28 80.20 380.43 80.60 381.00C81.07 381.67 81.53 382.00 82.00 382.00C82.47 382.00 82.93 381.87 83.40 381.60C83.73 381.41 84.07 376.36 84.40 374.00C84.93 370.22 85.47 365.60 86.00 364.00C86.67 362.00 87.33 361.00 88.00 361.00C88.67 361.00 89.33 362.73 90.00 363.00C90.67 363.27 91.33 363.40 92.00 363.40C92.67 363.40 93.33 363.00 94.00 363.00C94.67 363.00 95.33 363.67 96.00 365.00C96.67 366.33 97.33 370.74 98.00 375.00C98.53 378.41 99.07 384.48 99.60 387.00C99.93 388.58 100.27 390.00 100.60 390.00C100.93 390.00 101.27 388.67 101.60 386.00C101.93 383.33 102.27 370.50 102.60 364.00C102.87 358.80 103.13 355.67 103.40 350.00C103.67 344.33 103.93 335.90 104.20 330.00C104.40 325.57 104.60 321.56 104.80 318.00C104.97 315.03 105.13 311.97 105.30 310.00C105.40 308.82 105.50 307.20 105.60 307.20C105.70 307.20 105.80 308.82 105.90 310.00C106.07 311.97 106.23 315.03 106.40 318.00C106.60 321.56 106.80 325.57 107.00 330.00C107.27 335.90 107.53 344.58 107.80 350.00C108.20 358.13 108.60 364.63 109.00 366.00C109.47 367.60 109.93 368.40 110.40 368.40C110.80 368.40 111.20 368.27 111.60 368.00C112.00 367.73 112.40 366.40 112.80 366.40C113.20 366.40 113.60 370.92 114.00 374.00C114.47 377.59 114.93 387.00 115.40 387.00C115.87 387.00 116.33 387.00 116.80 387.00C117.20 387.00 117.60 386.00 118.00 384.00C118.47 381.67 118.93 370.01 119.40 364.00C119.93 357.14 120.47 349.20 121.00 346.00C121.73 341.60 122.47 339.40 123.20 339.40C123.60 339.40 124.00 341.56 124.40 343.00C124.93 344.91 125.47 348.72 126.00 350.00C126.67 351.60 127.33 351.23 128.00 352.40C128.67 353.57 129.33 354.57 130.00 357.00C130.67 359.43 131.33 362.83 132.00 367.00C132.67 371.17 133.33 378.15 134.00 382.00C134.47 384.70 134.93 388.40 135.40 388.40C135.80 388.40 136.20 385.98 136.60 384.00C137.07 381.69 137.53 375.65 138.00 375.00C138.67 374.07 139.33 374.09 140.00 373.60C140.53 373.21 141.07 372.95 141.60 372.40C142.07 371.92 142.53 370.60 143.00 370.60C143.47 370.60 143.93 371.86 144.40 372.40C144.93 373.01 145.47 373.79 146.00 374.00C146.67 374.27 147.33 374.13 148.00 374.40C148.53 374.61 149.07 376.96 149.60 379.00C150.27 381.55 150.93 386.62 151.60 389.00C152.07 390.67 152.53 392.60 153.00 392.60C153.33 392.60 153.67 385.95 154.00 382.00C154.40 377.26 154.80 369.15 155.20 366.00C155.47 363.90 155.73 362.60 156.00 362.60C156.40 362.60 156.80 364.91 157.20 366.00C157.80 367.63 158.40 369.50 159.00 370.60C159.47 371.46 159.93 371.20 160.40 372.40C160.80 373.43 161.20 380.13 161.60 383.00C162.00 385.87 162.40 389.10 162.80 389.60C163.33 390.27 163.87 390.35 164.40 390.60C165.27 391.00 166.13 390.80 167.00 391.20C167.67 391.51 168.33 392.47 169.00 393.00C169.47 393.37 169.93 394.00 170.40 394.00C170.73 394.00 171.07 387.21 171.40 384.00C171.80 380.15 172.20 373.27 172.60 373.00C173.20 372.60 173.80 372.65 174.40 372.40C174.93 372.18 175.47 372.13 176.00 371.60C176.67 370.93 177.33 369.00 178.00 368.00C178.67 367.00 179.33 365.60 180.00 365.60C180.47 365.60 180.93 366.27 181.40 367.60C181.93 369.12 182.47 373.88 183.00 377.00C183.67 380.89 184.33 387.00 185.00 388.60C185.67 390.20 186.33 391.00 187.00 391.00C187.33 391.00 187.67 390.67 188.00 390.00C188.33 389.33 188.67 383.35 189.00 381.00C189.47 377.72 189.93 375.00 190.40 375.00C190.93 375.00 191.47 376.00 192.00 376.00C192.53 376.00 193.07 375.66 193.60 375.00C194.27 374.18 194.93 372.10 195.60 371.00C196.27 369.90 196.93 368.40 197.60 368.40C198.27 368.40 198.93 368.40 199.60 368.40C200.20 368.40 200.80 368.93 201.40 370.00C201.80 370.71 202.20 376.49 202.60 379.00C203.20 382.77 203.80 385.45 204.40 387.00C204.80 388.03 205.20 388.60 205.60 388.60C205.93 388.60 206.27 382.82 206.60 380.00C207.07 376.05 207.53 369.05 208.00 368.40C208.67 367.47 209.33 367.75 210.00 367.00C210.47 366.47 210.93 366.17 211.40 365.00C211.93 363.66 212.47 361.03 213.00 359.00C213.47 357.22 213.93 354.89 214.40 353.60C214.80 352.49 215.20 351.40 215.60 351.40C216.00 351.40 216.40 354.22 216.80 357.00C217.33 360.71 217.87 368.77 218.40 373.00C218.93 377.23 219.47 381.87 220.00 382.40C220.40 382.80 220.80 383.00 221.20 383.00C221.80 383.00 222.40 379.87 223.00 378.00C223.67 375.92 224.33 372.33 225.00 371.00C225.53 369.93 226.07 369.40 226.60 369.40C227.20 369.40 227.80 369.60 228.40 370.00C228.93 370.36 229.47 372.00 230.00 372.00C230.20 372.00 230.40 371.33 230.60 370.00C230.87 368.22 231.13 356.07 231.40 350.00C231.73 342.41 232.07 332.67 232.40 330.00C232.60 328.40 232.80 327.60 233.00 327.60C233.20 327.60 233.40 329.07 233.60 332.00C233.87 335.91 234.13 352.25 234.40 360.00C234.73 369.68 235.07 381.60 235.40 381.60C235.70 381.60 236.00 365.93 236.30 360.00C236.60 354.07 236.90 350.44 237.20 346.00C237.59 340.28 237.97 335.27 238.36 330.00C238.61 326.64 238.85 322.85 239.10 320.00C239.33 317.30 239.57 314.75 239.80 313.20C240.00 311.87 240.20 310.80 240.40 310.80C240.63 310.80 240.87 312.61 241.10 314.00C241.40 315.79 241.70 317.81 242.00 321.00C242.23 323.48 242.47 325.59 242.70 330.00C243.00 335.67 243.30 346.95 243.60 354.00C243.93 361.84 244.27 369.05 244.60 374.00C244.87 377.96 245.13 382.60 245.40 382.60C245.73 382.60 246.07 373.81 246.40 370.00C246.80 365.43 247.20 359.14 247.60 358.00C248.07 356.67 248.53 356.37 249.00 356.00C249.33 355.73 249.67 355.60 250.00 355.60C250.53 355.60 251.07 356.07 251.60 357.00C252.07 357.82 252.53 359.50 253.00 363.00C253.47 366.50 253.93 374.73 254.40 378.00C254.93 381.73 255.47 382.10 256.00 383.60C256.53 385.10 257.07 385.05 257.60 387.00C258.07 388.71 258.53 392.17 259.00 394.00C259.47 395.83 259.93 398.00 260.40 398.00C260.67 398.00 260.93 392.52 261.20 390.00C261.60 386.21 262.00 380.00 262.40 379.60C262.80 379.20 263.20 379.00 263.60 379.00C264.07 379.00 264.53 380.00 265.00 380.00C265.47 380.00 265.93 377.64 266.40 376.40C266.93 374.98 267.47 373.13 268.00 372.00C268.53 370.87 269.07 369.60 269.60 369.60C269.93 369.60 270.27 370.40 270.60 372.00C270.93 373.60 271.27 377.49 271.60 380.00C272.07 383.51 272.53 387.35 273.00 389.60C273.53 392.17 274.07 393.60 274.60 393.60C275.07 393.60 275.53 391.53 276.00 390.00C276.47 388.47 276.93 385.72 277.40 384.40C277.93 382.89 278.47 382.46 279.00 382.00C279.47 381.60 279.93 381.40 280.40 381.40C280.93 381.40 281.47 382.40 282.00 382.40C282.53 382.40 283.07 382.06 283.60 381.60C284.27 381.03 284.93 379.50 285.60 379.00C286.13 378.60 286.67 378.40 287.20 378.40C287.60 378.40 288.00 380.07 288.40 382.00C288.80 383.93 289.20 387.83 289.60 390.00C290.07 392.54 290.53 394.40 291.00 395.60C291.47 396.80 291.93 397.40 292.40 397.40C292.80 397.40 293.20 396.60 293.60 395.00C294.07 393.13 294.53 387.67 295.00 384.00C295.47 380.33 295.93 375.02 296.40 373.00C296.80 371.27 297.20 370.40 297.60 370.40C298.20 370.40 298.80 370.60 299.40 371.00C299.93 371.36 300.47 372.72 301.00 374.00C301.47 375.12 301.93 377.42 302.40 378.00C302.93 378.67 303.47 379.00 304.00 379.00C304.53 379.00 305.07 378.47 305.60 377.60C306.07 376.84 306.53 374.77 307.00 374.40C307.33 374.13 307.67 374.00 308.00 374.00C308.20 374.00 308.40 377.92 308.60 380.00C308.93 383.46 309.27 390.33 309.60 391.00C309.93 391.67 310.27 392.00 310.60 392.00C311.20 392.00 311.80 390.53 312.40 389.60C313.07 388.56 313.73 387.10 314.40 386.00C315.07 384.90 315.73 385.00 316.40 383.00C316.93 381.40 317.47 379.19 318.00 375.00C318.40 371.86 318.80 365.32 319.20 363.00C319.47 361.45 319.73 360.60 320.00 360.60C320.27 360.60 320.53 362.96 320.80 365.00C321.20 368.05 321.60 374.45 322.00 378.00C322.53 382.73 323.07 385.40 323.60 388.00C324.20 390.93 324.80 392.66 325.40 394.00C325.93 395.19 326.47 396.00 327.00 396.00C327.33 396.00 327.67 395.33 328.00 394.00C328.40 392.40 328.80 386.73 329.20 384.00C329.60 381.27 330.00 378.90 330.40 377.60C330.93 375.87 331.47 376.10 332.00 375.00C332.53 373.90 333.07 373.00 333.60 371.00C334.13 369.00 334.67 366.68 335.20 363.00C335.60 360.24 336.00 355.30 336.40 353.00C336.80 350.70 337.20 349.20 337.60 349.20C337.93 349.20 338.27 350.27 338.60 352.00C339.07 354.43 339.53 360.51 340.00 364.00C340.53 367.99 341.07 370.41 341.60 374.00C342.07 377.14 342.53 381.27 343.00 384.00C343.53 387.12 344.07 391.00 344.60 391.00C344.93 391.00 345.27 389.00 345.60 387.00C345.93 385.00 346.27 380.83 346.60 379.00C346.93 377.17 347.27 376.00 347.60 376.00C347.93 376.00 348.27 378.79 348.60 380.00C349.07 381.70 349.53 384.40 350.00 384.40C350.33 384.40 350.67 382.34 351.00 381.60C351.47 380.56 351.93 379.60 352.40 379.60C352.93 379.60 353.47 379.73 354.00 380.00C354.53 380.27 355.07 380.89 355.60 382.40C356.07 383.72 356.53 385.85 357.00 388.00C357.67 391.08 358.33 395.67 359.00 399.00C359.67 402.33 360.33 406.09 361.00 408.00C361.47 409.34 361.93 410.40 362.40 410.40C362.80 410.40 363.20 406.99 363.60 404.00C364.07 400.51 364.53 393.17 365.00 390.00C365.47 386.83 365.93 385.58 366.40 385.00C366.93 384.33 367.47 384.00 368.00 384.00C368.53 384.00 369.07 384.13 369.60 384.40C370.07 384.63 370.53 385.23 371.00 386.00C371.33 386.55 371.67 388.00 372.00 388.00C372.27 388.00 372.53 383.20 372.80 380.00C373.20 375.20 373.60 366.12 374.00 362.00C374.33 358.56 374.67 355.60 375.00 355.60C375.27 355.60 375.53 358.21 375.80 362.00C376.13 366.74 376.47 377.98 376.80 384.00C377.20 391.22 377.60 396.20 378.00 400.00C378.53 405.07 379.07 407.60 379.60 407.60C380.07 407.60 380.53 406.40 381.00 404.00C381.47 401.60 381.93 391.26 382.40 384.00C382.80 377.77 383.20 369.36 383.60 364.00C384.07 357.75 384.53 350.60 385.00 350.60C385.33 350.60 385.67 355.89 386.00 360.00C386.40 364.93 386.80 379.00 387.20 379.00C387.60 379.00 388.00 376.17 388.40 375.00C388.87 373.64 389.33 371.60 389.80 371.60C390.13 371.60 390.47 373.42 390.80 375.00C391.33 377.53 391.87 382.67 392.40 386.00C392.93 389.33 393.47 393.93 394.00 395.00C394.53 396.07 395.07 396.60 395.60 396.60C396.27 396.60 396.93 396.40 397.60 396.00C397.93 395.80 398.27 387.83 398.60 384.00C398.93 380.17 399.27 374.07 399.60 373.00C399.93 371.93 400.27 371.40 400.60 371.40C401.07 371.40 401.53 372.21 402.00 373.00C402.67 374.13 403.33 376.33 404.00 378.00C404.67 379.67 405.33 381.50 406.00 383.00C406.67 384.50 407.33 385.17 408.00 387.00C408.67 388.83 409.33 391.57 410.00 394.00C410.67 396.43 411.33 399.43 412.00 401.60C412.67 403.77 413.33 406.20 414.00 407.00C414.33 407.40 414.67 407.60 415.00 407.60C415.33 407.60 415.67 401.45 416.00 398.00C416.47 393.16 416.93 385.93 417.40 382.00C417.93 377.50 418.47 376.07 419.00 374.00C419.67 371.41 420.33 370.11 421.00 369.00C421.53 368.11 422.07 367.40 422.60 367.40C422.93 367.40 423.27 372.79 423.60 375.00C424.07 378.10 424.53 381.47 425.00 382.40C425.53 383.47 426.07 382.93 426.60 384.00C427.07 384.93 427.53 388.26 428.00 391.00C428.53 394.13 429.07 399.39 429.60 402.00C430.07 404.28 430.53 406.00 431.00 406.40C431.47 406.80 431.93 407.00 432.40 407.00C432.93 407.00 433.47 404.57 434.00 403.00C434.67 401.04 435.33 397.83 436.00 396.00C436.67 394.17 437.33 392.82 438.00 392.00C438.53 391.34 439.07 391.00 439.60 391.00C439.73 391.00 439.87 391.53 440.00 391.60C440.53 391.87 441.07 391.73 441.60 392.00C442.07 392.23 442.53 393.64 443.00 395.00C443.67 396.94 444.33 400.33 445.00 403.00C445.67 405.67 446.33 408.90 447.00 411.00C447.67 413.10 448.33 415.60 449.00 415.60C449.33 415.60 449.67 412.93 450.00 410.00C450.33 407.07 450.67 401.17 451.00 398.00C451.47 393.57 451.93 389.60 452.40 389.60C452.80 389.60 453.20 391.71 453.60 392.40C453.93 392.97 454.27 393.60 454.60 393.60C455.07 393.60 455.53 392.37 456.00 392.00C456.40 391.68 456.80 391.40 457.20 391.40C457.60 391.40 458.00 393.03 458.40 393.60C458.93 394.36 459.47 394.67 460.00 395.00C460.53 395.33 461.07 395.20 461.60 395.60C462.07 395.95 462.53 398.27 463.00 400.00C463.67 402.47 464.33 406.74 465.00 409.00C465.53 410.81 466.07 413.00 466.60 413.00C466.93 413.00 467.27 411.00 467.60 409.00C467.93 407.00 468.27 402.14 468.60 401.00C469.07 399.40 469.53 398.60 470.00 398.60C470.53 398.60 471.07 399.40 471.60 399.40C472.13 399.40 472.67 399.27 473.20 399.00C473.80 398.70 474.40 398.22 475.00 397.60C475.53 397.05 476.07 395.60 476.60 395.60C477.07 395.60 477.53 397.58 478.00 399.00C478.53 400.62 479.07 403.38 479.60 405.00C480.20 406.82 480.80 406.98 481.40 409.00C481.93 410.79 482.47 414.10 483.00 416.00C483.47 417.66 483.93 420.00 484.40 420.00C484.80 420.00 485.20 413.11 485.60 410.00C486.07 406.37 486.53 401.40 487.00 400.00C487.67 398.00 488.33 398.07 489.00 397.00C489.67 395.93 490.33 394.77 491.00 393.60C491.67 392.43 492.33 390.87 493.00 390.00C493.67 389.13 494.33 388.40 495.00 388.40C495.67 388.40 496.33 388.93 497.00 390.00C497.47 390.75 497.93 395.49 498.40 398.00C498.93 400.87 499.47 404.07 500.00 406.00C500.53 407.93 501.07 409.60 501.60 409.60C502.07 409.60 502.53 406.22 503.00 404.00C503.53 401.46 504.07 397.42 504.60 395.00C505.20 392.27 505.80 390.54 506.40 389.00C506.93 387.63 507.47 386.30 508.00 386.00C508.47 385.73 508.93 385.60 509.40 385.60C509.80 385.60 510.20 387.94 510.60 389.00C511.07 390.24 511.53 392.40 512.00 392.40C512.47 392.40 512.93 391.00 513.40 391.00C513.80 391.00 514.20 391.20 514.60 391.60C515.07 392.07 515.53 395.08 516.00 397.00C516.67 399.75 517.33 403.87 518.00 406.00C518.47 407.49 518.93 409.20 519.40 409.20C519.80 409.20 520.20 404.29 520.60 402.00C521.07 399.32 521.53 394.40 522.00 394.40C522.47 394.40 522.93 394.40 523.40 394.40C523.80 394.40 524.20 395.60 524.60 395.60C524.93 395.60 525.27 391.57 525.60 390.00C526.00 388.11 526.40 385.60 526.80 385.60C527.20 385.60 527.60 388.20 528.00 389.00C528.40 389.80 528.80 390.40 529.20 390.40C529.60 390.40 530.00 386.63 530.40 385.00C530.80 383.37 531.20 380.60 531.60 380.60C531.93 380.60 532.27 383.25 532.60 385.00C533.07 387.45 533.53 391.57 534.00 394.00C534.47 396.43 534.93 398.93 535.40 399.60C535.87 400.27 536.33 400.60 536.80 400.60C537.13 400.60 537.47 396.10 537.80 392.00C538.13 387.90 538.47 379.97 538.80 376.00C539.20 371.24 539.60 369.40 540.00 367.60C540.53 365.20 541.07 364.85 541.60 364.00C542.27 362.93 542.93 362.79 543.60 362.40C544.40 361.93 545.20 362.13 546.00 361.60C546.53 361.24 547.07 360.66 547.60 360.00C548.07 359.43 548.53 358.00 549.00 358.00C549.33 358.00 549.67 359.32 550.00 361.00C550.40 363.02 550.80 367.20 551.20 370.00C551.67 373.27 552.13 376.90 552.60 379.00C553.07 381.10 553.53 382.60 554.00 382.60C554.33 382.60 554.67 380.43 555.00 378.00C555.33 375.57 555.67 370.37 556.00 368.00C556.40 365.15 556.80 363.76 557.20 363.60C557.87 363.33 558.53 363.20 559.20 363.20C559.47 363.20 559.73 364.82 560.00 366.00C560.40 367.77 560.80 372.33 561.20 373.00C561.60 373.67 562.00 374.00 562.40 374.00C562.93 374.00 563.47 371.33 564.00 370.00C564.53 368.67 565.07 366.84 565.60 366.00C565.93 365.47 566.27 365.00 566.60 365.00C566.93 365.00 567.27 367.84 567.60 370.00C568.07 373.03 568.53 378.50 569.00 382.00C569.47 385.50 569.93 389.13 570.40 391.00C570.80 392.60 571.20 393.40 571.60 393.40C571.93 393.40 572.27 389.53 572.60 387.00C573.07 383.45 573.53 377.13 574.00 374.00C574.53 370.43 575.07 368.67 575.60 368.00C576.13 367.33 576.67 367.00 577.20 367.00C577.80 367.00 578.40 367.89 579.00 369.00C579.53 369.98 580.07 371.77 580.60 373.00C581.07 374.08 581.53 376.00 582.00 376.00C582.67 376.00 583.33 376.00 584.00 376.00C584.47 376.00 584.93 377.93 585.40 380.00C585.93 382.37 586.47 387.02 587.00 390.00C587.47 392.61 587.93 395.63 588.40 397.00C588.67 397.78 588.93 398.40 589.20 398.40C589.47 398.40 589.73 392.69 590.00 390.00C590.67 383.29 591.33 375.33 592.00 372.00C592.33 370.33 592.67 369.48 593.00 369.00C593.47 368.33 593.93 368.00 594.40 368.00C594.93 368.00 595.47 369.00 596.00 369.00C596.47 369.00 596.93 367.19 597.40 366.40C597.93 365.50 598.47 364.00 599.00 364.00C599.47 364.00 599.93 364.59 600.40 365.00C600.73 365.29 601.07 366.00 601.40 366.00C601.73 366.00 602.07 359.77 602.40 357.00C602.80 353.67 603.20 349.92 603.60 348.00C603.87 346.72 604.13 345.60 604.40 345.60C604.73 345.60 605.07 349.39 605.40 351.00C605.80 352.94 606.20 356.00 606.60 356.00C606.93 356.00 607.27 351.56 607.60 348.00C608.13 342.30 608.67 334.95 609.20 324.00C609.53 317.15 609.87 306.38 610.20 300.00C610.43 295.54 610.67 291.67 610.90 289.00C611.03 287.47 611.17 286.47 611.30 285.40C611.40 284.60 611.50 283.20 611.60 283.20C611.70 283.20 611.80 284.60 611.90 285.40C612.03 286.47 612.17 287.03 612.30 289.00C612.57 292.93 612.83 302.50 613.10 310.00C613.37 317.50 613.63 330.65 613.90 334.00C614.13 336.93 614.37 338.40 614.60 338.40C615.07 338.40 615.53 336.42 616.00 335.00C616.53 333.38 617.07 330.67 617.60 329.00C618.13 327.33 618.67 325.00 619.20 325.00C619.47 325.00 619.73 327.69 620.00 330.00C620.47 334.04 620.93 343.00 621.40 348.00C621.87 353.00 622.33 356.98 622.80 360.00C623.20 362.59 623.60 365.60 624.00 365.60C624.33 365.60 624.67 361.60 625.00 358.00C625.33 354.40 625.67 347.33 626.00 344.00C626.47 339.33 626.93 338.59 627.40 337.00C628.07 334.73 628.73 334.21 629.40 333.60C630.13 332.93 630.87 332.60 631.60 332.60C632.27 332.60 632.93 332.83 633.60 333.00C634.07 333.12 634.53 333.40 635.00 333.40C635.53 333.40 636.07 333.00 636.60 333.00C636.93 333.00 637.27 335.13 637.60 337.00C638.07 339.62 638.53 344.33 639.00 348.00C639.47 351.67 639.93 356.26 640.40 359.00C640.80 361.35 641.20 364.00 641.60 364.00C641.93 364.00 642.27 359.96 642.60 358.00C643.07 355.26 643.53 351.97 644.00 350.00C644.53 347.75 645.07 346.46 645.60 346.00C646.07 345.60 646.53 345.40 647.00 345.40C647.47 345.40 647.93 346.27 648.40 348.00C648.80 349.49 649.20 352.83 649.60 355.00C650.00 357.17 650.40 359.60 650.80 361.00C651.07 361.93 651.33 363.00 651.60 363.00C651.87 363.00 652.13 358.13 652.40 356.00C652.73 353.34 653.07 350.17 653.40 349.00C653.67 348.07 653.93 347.60 654.20 347.60C654.47 347.60 654.73 351.39 655.00 354.00C655.33 357.26 655.67 362.38 656.00 366.00C656.47 371.07 656.93 376.33 657.40 379.00C657.87 381.67 658.33 383.00 658.80 383.00C659.13 383.00 659.47 380.17 659.80 378.00C660.20 375.39 660.60 369.00 661.00 368.00C661.53 366.67 662.07 366.32 662.60 366.00C663.27 365.60 663.93 365.67 664.60 365.40C665.27 365.13 665.93 364.40 666.60 364.40C667.27 364.40 667.93 364.80 668.60 365.60C669.20 366.32 669.80 366.75 670.40 369.00C670.80 370.50 671.20 371.25 671.60 375.00C671.93 378.12 672.27 383.50 672.60 388.00C672.93 392.50 673.27 398.48 673.60 402.00C674.07 406.92 674.53 408.27 675.00 410.00C675.47 411.73 675.93 412.60 676.40 412.60C676.73 412.60 677.07 410.27 677.40 408.00C677.73 405.73 678.07 399.83 678.40 399.00C678.93 397.67 679.47 397.27 680.00 397.00C680.53 396.73 681.07 396.87 681.60 396.60C682.07 396.37 682.53 393.37 683.00 392.00C683.47 390.63 683.93 389.22 684.40 388.40C684.93 387.47 685.47 387.93 686.00 387.00C686.47 386.18 686.93 382.76 687.40 381.00C687.80 379.49 688.20 377.60 688.60 377.00C688.87 376.60 689.13 376.40 689.40 376.40C689.67 376.40 689.93 380.01 690.20 382.00C690.53 384.48 690.87 388.10 691.20 390.00C691.67 392.67 692.13 393.10 692.60 394.00C693.07 394.90 693.53 395.40 694.00 395.40C694.27 395.40 694.53 392.07 694.80 390.00C695.13 387.42 695.47 382.89 695.80 381.00C696.07 379.49 696.33 378.60 696.60 378.60C696.93 378.60 697.27 380.24 697.60 381.00C698.07 382.07 698.53 384.00 699.00 384.00C699.47 384.00 699.93 383.24 700.40 383.00C700.80 382.80 701.20 382.60 701.60 382.60C702.07 382.60 702.53 384.53 703.00 385.60C703.47 386.67 703.93 387.99 704.40 389.00C704.93 390.16 705.47 390.33 706.00 392.00C706.53 393.67 707.07 396.50 707.60 399.00C708.13 401.50 708.67 404.94 709.20 407.00C709.67 408.80 710.13 410.17 710.60 411.00C710.93 411.59 711.27 412.00 711.60 412.00C711.93 412.00 712.27 409.37 712.60 408.00C713.07 406.08 713.53 403.48 714.00 402.00C714.53 400.31 715.07 399.79 715.60 399.00C716.27 398.01 716.93 397.27 717.60 397.00C718.27 396.73 718.93 396.60 719.60 396.60C720.13 396.60 720.67 396.93 721.20 397.60C721.67 398.18 722.13 399.93 722.60 401.00C723.07 402.07 723.53 403.26 724.00 404.00C724.67 405.06 725.33 405.10 726.00 405.60C726.67 406.10 727.33 407.00 728.00 407.00C728.40 407.00 728.80 406.15 729.20 405.00C729.67 403.66 730.13 400.67 730.60 399.00C731.07 397.33 731.53 395.98 732.00 395.00C732.53 393.88 733.07 393.00 733.60 393.00C734.07 393.00 734.53 394.83 735.00 395.60C735.47 396.37 735.93 397.60 736.40 397.60C736.93 397.60 737.47 396.01 738.00 395.00C738.47 394.11 738.93 393.09 739.40 392.00C739.80 391.07 740.20 389.57 740.60 389.00C741.07 388.33 741.53 388.00 742.00 388.00C742.47 388.00 742.93 388.53 743.40 389.60C743.73 390.36 744.07 393.43 744.40 396.00C744.73 398.57 745.07 403.33 745.40 405.00C745.67 406.33 745.93 407.00 746.20 407.00C746.47 407.00 746.73 399.58 747.00 396.00C747.33 391.53 747.67 385.00 748.00 383.00C748.33 381.00 748.67 380.00 749.00 380.00C749.47 380.00 749.93 381.93 750.40 383.00C751.07 384.53 751.73 386.17 752.40 388.00C753.07 389.83 753.73 392.00 754.40 394.00C755.07 396.00 755.73 398.17 756.40 400.00C757.07 401.83 757.73 402.87 758.40 405.00C758.93 406.70 759.47 409.18 760.00 411.00C760.67 413.28 761.33 415.50 762.00 417.00C762.47 418.05 762.93 419.40 763.40 419.40C763.67 419.40 763.93 416.90 764.20 414.00C764.53 410.38 764.87 402.07 765.20 398.00C765.53 393.93 765.87 389.60 766.20 389.60C766.53 389.60 766.87 391.84 767.20 393.00C767.67 394.62 768.13 396.73 768.60 398.00C769.07 399.27 769.53 400.00 770.00 400.60C770.47 401.20 770.93 401.60 771.40 401.60C771.80 401.60 772.20 399.70 772.60 399.00C772.93 398.42 773.27 397.60 773.60 397.60C774.07 397.60 774.53 399.58 775.00 401.00C775.53 402.62 776.07 404.83 776.60 407.00C777.20 409.45 777.80 412.67 778.40 415.00C778.93 417.07 779.47 419.22 780.00 420.40C780.40 421.28 780.80 422.00 781.20 422.00C781.60 422.00 782.00 420.83 782.40 419.00C782.80 417.17 783.20 413.49 783.60 411.00C784.07 408.09 784.53 404.60 785.00 403.00C785.47 401.40 785.93 400.72 786.40 400.60C786.93 400.47 787.47 400.53 788.00 400.40C788.53 400.27 789.07 399.85 789.60 399.60C790.07 399.38 790.53 399.00 791.00 399.00C791.47 399.00 791.93 401.12 792.40 402.00C792.80 402.75 793.20 404.00 793.60 404.00C794.07 404.00 794.53 403.00 795.00 403.00C795.33 403.00 795.67 403.20 796.00 403.60C796.33 404.00 796.67 407.27 797.00 409.00C797.33 410.73 797.67 412.89 798.00 414.00C798.27 414.89 798.53 415.60 798.80 415.60C799.07 415.60 799.33 411.17 799.60 409.00C799.93 406.29 800.27 401.76 800.60 401.00C801.07 399.93 801.53 399.90 802.00 399.40C802.47 398.90 802.93 398.93 803.40 398.00C803.80 397.20 804.20 394.24 804.60 393.00C805.07 391.55 805.53 390.40 806.00 390.40C806.53 390.40 807.07 391.07 807.60 391.60C808.13 392.13 808.67 393.00 809.20 393.60C809.67 394.12 810.13 394.07 810.60 395.00C810.93 395.67 811.27 398.33 811.60 401.00C811.93 403.67 812.27 408.77 812.60 411.00C812.93 413.23 813.27 414.40 813.60 414.40C814.07 414.40 814.53 414.13 815.00 413.60C815.53 412.99 816.07 411.58 816.60 410.00C817.07 408.62 817.53 407.60 818.00 405.00C818.33 403.14 818.67 400.83 819.00 398.00C819.33 395.17 819.67 390.74 820.00 388.00C820.47 384.17 820.93 381.40 821.40 380.00C822.07 378.00 822.73 377.00 823.40 377.00C823.93 377.00 824.47 378.27 825.00 379.00C825.53 379.73 826.07 380.82 826.60 381.40C827.07 381.90 827.53 381.73 828.00 382.40C828.40 382.97 828.80 384.63 829.20 386.40C829.60 388.17 830.00 391.04 830.40 393.00C830.93 395.62 831.47 398.09 832.00 399.60C832.47 400.93 832.93 402.00 833.40 402.00C833.67 402.00 833.93 398.41 834.20 396.00C834.53 392.98 834.87 386.89 835.20 385.00C835.60 382.73 836.00 381.60 836.40 381.60C836.93 381.60 837.47 381.60 838.00 381.60C838.53 381.60 839.07 382.50 839.60 383.00C840.27 383.62 840.93 384.50 841.60 385.00C842.27 385.50 842.93 385.62 843.60 386.00C844.13 386.30 844.67 386.33 845.20 387.00C845.60 387.50 846.00 389.00 846.40 391.00C846.80 393.00 847.20 397.09 847.60 399.00C848.07 401.23 848.53 402.13 849.00 402.60C849.53 403.13 850.07 403.40 850.60 403.40C850.93 403.40 851.27 399.30 851.60 397.00C851.93 394.70 852.27 391.16 852.60 389.60C852.87 388.35 853.13 387.60 853.40 387.60C853.73 387.60 854.07 389.95 854.40 391.00C854.80 392.26 855.20 394.40 855.60 394.40C855.93 394.40 856.27 392.02 856.60 391.00C857.07 389.57 857.53 387.87 858.00 387.40C858.53 386.87 859.07 386.60 859.60 386.60C860.13 386.60 860.67 386.60 861.20 386.60C861.67 386.60 862.13 387.07 862.60 388.00C862.93 388.67 863.27 390.23 863.60 392.00C864.07 394.48 864.53 399.17 865.00 402.00C865.47 404.83 865.93 407.60 866.40 409.00C866.93 410.60 867.47 411.40 868.00 411.40C868.67 411.40 869.33 411.27 870.00 411.00C870.47 410.81 870.93 407.98 871.40 406.00C871.93 403.74 872.47 399.94 873.00 398.00C873.47 396.31 873.93 395.07 874.40 394.60C874.80 394.20 875.20 394.00 875.60 394.00C876.13 394.00 876.67 394.93 877.20 395.40C877.80 395.93 878.40 396.47 879.00 397.00C879.53 397.47 880.07 397.47 880.60 398.40C880.93 398.98 881.27 401.73 881.60 404.00C881.93 406.27 882.27 410.57 882.60 412.00C883.07 414.00 883.53 414.77 884.00 415.00C884.53 415.27 885.07 415.40 885.60 415.40C885.93 415.40 886.27 412.07 886.60 410.00C886.93 407.93 887.27 403.67 887.60 403.00C888.07 402.07 888.53 401.88 889.00 401.60C889.67 401.20 890.33 401.27 891.00 401.00C891.67 400.73 892.33 400.23 893.00 400.00C893.67 399.77 894.33 399.60 895.00 399.60C895.53 399.60 896.07 400.07 896.60 401.00C897.07 401.82 897.53 403.47 898.00 405.00C898.53 406.75 899.07 409.10 899.60 411.00C900.20 413.13 900.80 415.62 901.40 417.00C901.93 418.22 902.47 419.20 903.00 419.20C903.33 419.20 903.67 417.32 904.00 416.00C904.47 414.16 904.93 411.14 905.40 409.00C905.93 406.55 906.47 403.77 907.00 402.40C907.47 401.20 907.93 400.60 908.40 400.60C908.93 400.60 909.47 401.00 910.00 401.00C910.47 401.00 910.93 400.57 911.40 400.00C911.80 399.51 912.20 398.43 912.60 398.00C912.93 397.64 913.27 397.40 913.60 397.40C914.07 397.40 914.53 397.93 915.00 399.00C915.33 399.76 915.67 401.17 916.00 403.00C916.33 404.83 916.67 408.08 917.00 410.00C917.47 412.68 917.93 414.78 918.40 415.60C918.93 416.53 919.47 417.00 920.00 417.00C920.47 417.00 920.93 415.30 921.40 414.00C921.80 412.89 922.20 410.34 922.60 410.00C923.07 409.60 923.53 409.40 924.00 409.40C924.53 409.40 925.07 409.40 925.60 409.40C926.07 409.40 926.53 408.34 927.00 408.00C927.40 407.71 927.80 407.40 928.20 407.40C928.53 407.40 928.87 408.90 929.20 410.00C929.53 411.10 929.87 414.00 930.20 414.00C930.53 414.00 930.87 413.56 931.20 413.00C931.60 412.33 932.00 410.40 932.40 410.00C932.67 409.73 932.93 409.60 933.20 409.60C933.53 409.60 933.87 411.75 934.20 413.00C934.60 414.50 935.00 416.33 935.40 418.00C935.80 419.67 936.20 421.71 936.60 423.00C937.07 424.51 937.53 426.00 938.00 426.00C938.33 426.00 938.67 423.83 939.00 422.00C939.33 420.17 939.67 417.15 940.00 415.00C940.47 411.98 940.93 408.97 941.40 407.00C941.93 404.75 942.47 403.00 943.00 403.00C943.47 403.00 943.93 403.60 944.40 404.00C944.93 404.45 945.47 405.33 946.00 405.60C946.53 405.87 947.07 406.00 947.60 406.00C948.07 406.00 948.53 405.50 949.00 405.00C949.47 404.50 949.93 403.00 950.40 403.00C950.67 403.00 950.93 404.60 951.20 406.00C951.60 408.10 952.00 412.64 952.40 415.00C952.93 418.14 953.47 420.07 954.00 421.00C954.53 421.93 955.07 422.40 955.60 422.40C955.93 422.40 956.27 420.45 956.60 419.00C957.07 416.96 957.53 413.10 958.00 411.00C958.53 408.60 959.07 407.40 959.60 406.00C960.27 404.25 960.93 403.33 961.60 402.00C962.27 400.67 962.93 399.23 963.60 398.00C964.27 396.77 964.93 395.50 965.60 394.60C966.27 393.70 966.93 392.60 967.60 392.60C967.93 392.60 968.27 394.77 968.60 397.00C968.93 399.23 969.27 403.81 969.60 406.00C970.00 408.63 970.40 409.92 970.80 410.40C971.47 411.20 972.13 411.40 972.80 411.60" fill="none" stroke="#1673e0" stroke-width="1.6" stroke-linejoin="round" stroke-linecap="round"/>
<text x="28.6 33 37.4 41.7 46.1 50.5" y="278.2">20,000</text>
<text x="28.6 33 37.4 41.7 46.1 50.5" y="392.0">10,000</text>
<text x="44.6" y="503.4">0</text>
</svg>
</body>
</html>
